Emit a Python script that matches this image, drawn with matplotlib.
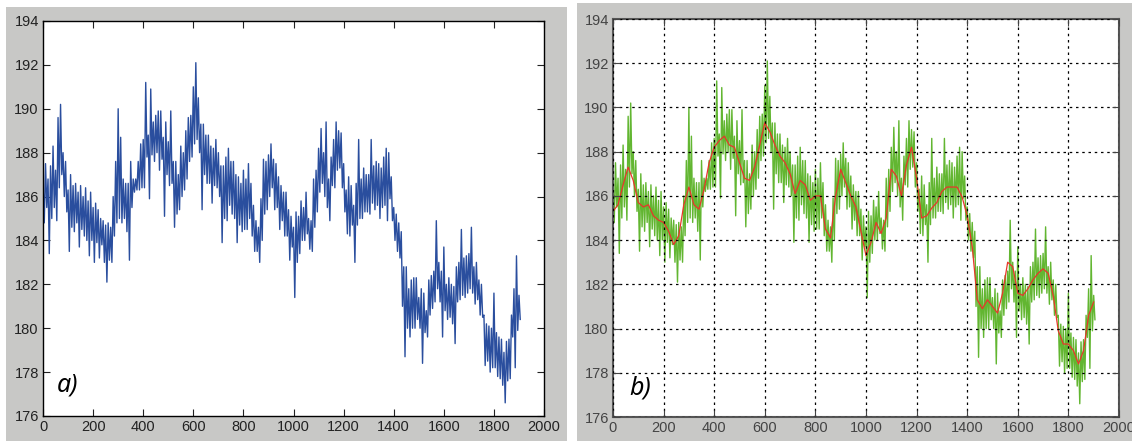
import matplotlib
matplotlib.use("Agg")
import matplotlib.pyplot as plt
import numpy as np

plt.rcParams['font.family'] = ['Liberation Sans', 'DejaVu Sans']

# raw signal: highest and lowest value seen in each 10-sample bin (0..1900)
step = 10
raw_hi = [
    186.6, 187.5, 186.8, 187.4, 188.3, 187.2, 189.6, 190.2, 188.0, 187.6,
    186.3, 187.0, 186.5, 186.6, 186.2, 186.5, 186.0, 186.4, 185.8, 186.2,
    185.5, 185.7, 185.4, 185.0, 184.9, 184.7, 184.8, 184.6, 186.0, 187.6,
    190.0, 188.7, 186.8, 186.6, 186.6, 187.6, 186.8, 186.8, 187.6, 188.4,
    188.6, 191.2, 188.8, 190.9, 189.4, 189.7, 189.9, 189.9, 188.7, 189.4,
    188.5, 189.9, 187.6, 187.6, 187.0, 188.3, 188.0, 189.0, 189.6, 189.7,
    191.0, 192.1, 190.5, 189.3, 189.3, 188.8, 188.8, 188.3, 188.2, 188.6,
    188.0, 187.4, 187.4, 187.8, 188.2, 187.6, 187.6, 187.0, 186.9, 186.6,
    187.2, 186.8, 187.5, 186.6, 185.6, 184.9, 184.6, 185.9, 187.7, 187.6,
    187.9, 188.4, 187.7, 187.5, 186.9, 186.5, 186.2, 186.2, 185.4, 185.1,
    184.6, 185.3, 185.1, 185.8, 185.5, 186.2, 185.0, 184.9, 186.8, 187.2,
    188.2, 189.1, 188.0, 189.4, 186.8, 187.8, 188.6, 189.4, 189.0, 188.9,
    187.5, 186.3, 186.9, 186.5, 185.6, 186.6, 188.6, 186.8, 187.3, 187.0,
    187.0, 188.6, 187.4, 187.6, 187.5, 187.3, 187.8, 188.2, 188.0, 186.9,
    185.5, 185.2, 184.8, 184.4, 182.8, 182.8, 181.8, 182.2, 182.3, 182.3,
    181.4, 181.8, 181.6, 180.8, 182.2, 182.4, 182.6, 184.9, 183.0, 182.6,
    183.7, 182.0, 182.3, 182.0, 181.9, 182.8, 183.0, 184.5, 183.2, 183.3,
    183.4, 184.6, 182.8, 183.0, 182.2, 182.0, 180.6, 180.2, 180.1, 180.0,
    181.6, 179.8, 179.6, 179.5, 178.9, 179.4, 179.5, 180.6, 181.8, 183.3,
    181.5,
]
raw_lo = [
    184.8, 185.5, 183.4, 185.0, 185.5, 184.9, 186.4, 187.0, 186.0, 185.3,
    183.5, 184.6, 184.4, 184.8, 183.7, 184.5, 184.2, 184.0, 183.3, 184.0,
    183.0, 183.9, 183.2, 183.8, 183.0, 182.1, 183.1, 183.0, 184.2, 184.8,
    185.0, 184.8, 185.0, 184.4, 183.1, 185.5, 186.2, 186.3, 186.3, 186.4,
    186.4, 187.8, 185.9, 187.9, 187.6, 188.0, 187.2, 187.7, 185.1, 187.0,
    186.5, 186.6, 184.6, 185.2, 185.4, 186.0, 186.3, 186.8, 187.6, 187.8,
    188.4, 188.6, 188.0, 185.4, 187.0, 186.6, 186.6, 185.7, 186.5, 186.4,
    186.0, 183.9, 185.0, 184.9, 185.6, 185.2, 185.0, 183.9, 184.7, 184.4,
    184.5, 184.5, 185.0, 184.2, 183.5, 183.5, 183.0, 184.0, 185.2, 185.4,
    186.0, 186.4, 185.4, 185.5, 184.5, 184.9, 184.2, 184.2, 183.1, 183.7,
    181.4, 183.0, 183.4, 184.0, 184.0, 184.3, 183.6, 183.5, 184.6, 185.3,
    186.2, 186.6, 186.0, 185.5, 184.9, 186.5, 186.4, 187.2, 187.3, 186.4,
    185.3, 184.3, 184.2, 184.7, 183.0, 184.7, 185.0, 185.0, 185.3, 185.3,
    185.2, 185.7, 185.4, 185.6, 185.0, 185.5, 185.6, 184.9, 185.9, 184.9,
    184.0, 183.5, 183.2, 181.0, 178.7, 180.0, 179.6, 180.0, 180.0, 180.4,
    180.0, 178.4, 179.8, 179.6, 180.6, 180.9, 181.2, 181.8, 181.2, 179.6,
    180.8, 180.4, 180.5, 180.2, 179.3, 181.2, 181.3, 181.5, 181.4, 181.6,
    181.8, 181.6, 181.1, 181.3, 180.6, 180.5, 178.3, 178.5, 178.0, 178.2,
    178.2, 177.8, 177.7, 177.4, 176.6, 177.6, 177.7, 179.6, 178.2, 179.9,
    180.4,
]

# smoothed curve (red line in b), read every 20 samples
smooth_step = 20
smooth = [
    185.3, 185.6, 186.5, 187.3, 186.7, 185.7, 185.5, 185.6, 185.1, 184.9,
    184.8, 184.4, 183.8, 184.2, 185.6, 186.4, 185.6, 185.4, 186.3, 187.5,
    188.2, 188.5, 188.7, 188.3, 188.2, 187.5, 186.8, 186.7, 187.3, 188.3,
    189.3, 188.9, 188.3, 187.8, 187.5, 187.0, 186.1, 186.7, 186.5, 185.8,
    186.0, 186.0, 184.5, 184.1, 186.0, 187.2, 186.6, 186.0, 185.5, 184.4,
    183.3, 183.9, 184.8, 184.3, 185.0, 187.2, 186.9, 186.0, 187.4, 188.2,
    186.8, 185.0, 185.1, 185.45, 185.7, 186.2, 186.4, 186.4, 186.4, 185.95,
    185.1, 183.7, 181.3, 180.9, 181.3, 181.0, 180.7, 181.6, 183.0, 182.8,
    181.6, 181.5, 181.8, 182.2, 182.5, 182.7, 182.5, 181.5, 179.9, 179.3,
    179.3, 179.0, 178.4, 179.0, 180.6, 181.2,
]

xticks = list(range(0, 2001, 200))
yticks = list(range(176, 195, 2))

# zig-zag through each bin: high at the bin start, low half way
n = len(raw_hi)
x_raw = np.empty(2 * n)
y_raw = np.empty(2 * n)
x_raw[0::2] = np.arange(n) * step
x_raw[1::2] = np.arange(n) * step + step / 2
y_raw[0::2] = raw_hi
y_raw[1::2] = raw_lo
x_smooth = np.arange(len(smooth)) * smooth_step

fig = plt.figure(figsize=(11.32, 4.41), dpi=100, facecolor='white')

# grey panels behind each axes
fig.patches.append(plt.Rectangle((0.0053, 0.0), 0.4956, 0.984, transform=fig.transFigure,
                                 facecolor='#c8c8c6', edgecolor='none', zorder=-10))
fig.patches.append(plt.Rectangle((0.5097, 0.0), 0.4903, 0.993, transform=fig.transFigure,
                                 facecolor='#c8c8c6', edgecolor='none', zorder=-10))

ax1 = fig.add_axes([0.0380, 0.0567, 0.4426, 0.8957])
ax2 = fig.add_axes([0.5415, 0.0544, 0.4470, 0.9025])

for ax in (ax1, ax2):
    ax.set_xlim(0, 2000)
    ax.set_ylim(176, 194)
    ax.set_xticks(xticks)
    ax.set_yticks(yticks)
    ax.tick_params(direction='in', length=5, top=True, right=True,
                   labelsize=10.5, pad=3)

ax1.plot(x_raw, y_raw, color='#2a4e9e', lw=1.0)
ax1.tick_params(colors='#222222', labelcolor='#222222')
for s in ax1.spines.values():
    s.set_color('black')
    s.set_linewidth(1.0)
ax1.text(55, 177.4, 'a)', fontsize=18, style='italic', family=['Noto Sans', 'DejaVu Sans'],
         ha='left', va='center')

ax2.plot(x_raw, y_raw, color='#62b631', lw=1.0)
ax2.plot(x_smooth, smooth, color='#e8352a', lw=0.9)
ax2.grid(True, color='black', linestyle=(0, (2, 3)), linewidth=0.9)
ax2.set_axisbelow(False)
ax2.tick_params(colors='#444444', labelcolor='#444444')
for s in ax2.spines.values():
    s.set_color('#555555')
    s.set_linewidth(1.5)
ax2.text(65, 177.3, 'b)', fontsize=18, style='italic', family=['Noto Sans', 'DejaVu Sans'],
         ha='left', va='center')

fig.savefig('out.png', dpi=100, facecolor='white')
